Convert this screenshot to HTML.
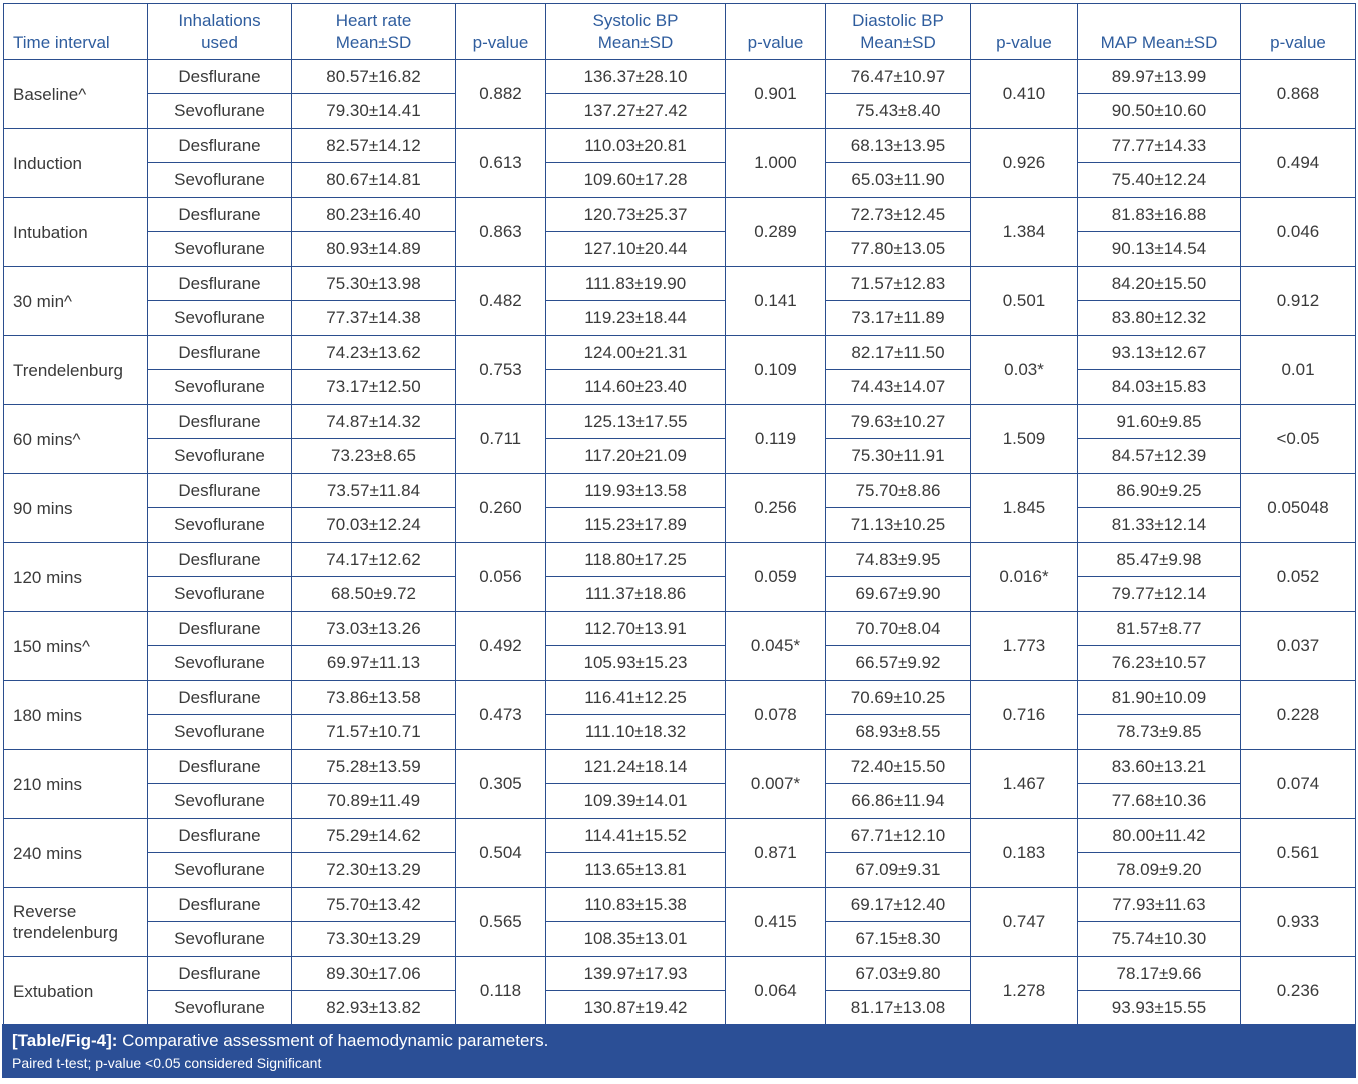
<!DOCTYPE html><html><head><style>
body{margin:0;background:#fff;width:1358px;height:1084px;overflow:hidden;font-family:"Liberation Sans",sans-serif}
table{position:absolute;left:3px;top:3px;border-collapse:collapse;table-layout:fixed}
td,th{border:1px solid #2b4e8e;padding:0;font-size:17px;color:#3a3a3a;text-align:center;font-weight:normal;white-space:nowrap}
th{color:#2f5d9e;vertical-align:bottom;padding-bottom:5px;line-height:22px}
td.l{text-align:left;padding-left:9px;white-space:normal;line-height:21px}
tr.a td{height:33px}tr.b td{height:34px}
#cap{position:absolute;left:2px;top:1024px;width:1354px;height:54px;background:#2b4f96;color:#fff}
</style></head><body>
<table>
<colgroup><col style="width:144px"><col style="width:144px"><col style="width:164px"><col style="width:90px"><col style="width:180px"><col style="width:100px"><col style="width:145px"><col style="width:107px"><col style="width:163px"><col style="width:115px"></colgroup>
<tr style="height:56px"><th style="text-align:left;padding-left:9px">Time interval</th><th>Inhalations<br>used</th><th>Heart rate<br>Mean±SD</th><th>p-value</th><th>Systolic BP<br>Mean±SD</th><th>p-value</th><th>Diastolic BP<br>Mean±SD</th><th>p-value</th><th>MAP Mean±SD</th><th>p-value</th></tr>
<tr class="a"><td class="l" rowspan="2">Baseline^</td><td>Desflurane</td><td>80.57±16.82</td><td rowspan="2">0.882</td><td>136.37±28.10</td><td rowspan="2">0.901</td><td>76.47±10.97</td><td rowspan="2">0.410</td><td>89.97±13.99</td><td rowspan="2">0.868</td></tr>
<tr class="b"><td>Sevoflurane</td><td>79.30±14.41</td><td>137.27±27.42</td><td>75.43±8.40</td><td>90.50±10.60</td></tr>
<tr class="a"><td class="l" rowspan="2">Induction</td><td>Desflurane</td><td>82.57±14.12</td><td rowspan="2">0.613</td><td>110.03±20.81</td><td rowspan="2">1.000</td><td>68.13±13.95</td><td rowspan="2">0.926</td><td>77.77±14.33</td><td rowspan="2">0.494</td></tr>
<tr class="b"><td>Sevoflurane</td><td>80.67±14.81</td><td>109.60±17.28</td><td>65.03±11.90</td><td>75.40±12.24</td></tr>
<tr class="a"><td class="l" rowspan="2">Intubation</td><td>Desflurane</td><td>80.23±16.40</td><td rowspan="2">0.863</td><td>120.73±25.37</td><td rowspan="2">0.289</td><td>72.73±12.45</td><td rowspan="2">1.384</td><td>81.83±16.88</td><td rowspan="2">0.046</td></tr>
<tr class="b"><td>Sevoflurane</td><td>80.93±14.89</td><td>127.10±20.44</td><td>77.80±13.05</td><td>90.13±14.54</td></tr>
<tr class="a"><td class="l" rowspan="2">30 min^</td><td>Desflurane</td><td>75.30±13.98</td><td rowspan="2">0.482</td><td>111.83±19.90</td><td rowspan="2">0.141</td><td>71.57±12.83</td><td rowspan="2">0.501</td><td>84.20±15.50</td><td rowspan="2">0.912</td></tr>
<tr class="b"><td>Sevoflurane</td><td>77.37±14.38</td><td>119.23±18.44</td><td>73.17±11.89</td><td>83.80±12.32</td></tr>
<tr class="a"><td class="l" rowspan="2">Trendelenburg</td><td>Desflurane</td><td>74.23±13.62</td><td rowspan="2">0.753</td><td>124.00±21.31</td><td rowspan="2">0.109</td><td>82.17±11.50</td><td rowspan="2">0.03*</td><td>93.13±12.67</td><td rowspan="2">0.01</td></tr>
<tr class="b"><td>Sevoflurane</td><td>73.17±12.50</td><td>114.60±23.40</td><td>74.43±14.07</td><td>84.03±15.83</td></tr>
<tr class="a"><td class="l" rowspan="2">60 mins^</td><td>Desflurane</td><td>74.87±14.32</td><td rowspan="2">0.711</td><td>125.13±17.55</td><td rowspan="2">0.119</td><td>79.63±10.27</td><td rowspan="2">1.509</td><td>91.60±9.85</td><td rowspan="2">&lt;0.05</td></tr>
<tr class="b"><td>Sevoflurane</td><td>73.23±8.65</td><td>117.20±21.09</td><td>75.30±11.91</td><td>84.57±12.39</td></tr>
<tr class="a"><td class="l" rowspan="2">90 mins</td><td>Desflurane</td><td>73.57±11.84</td><td rowspan="2">0.260</td><td>119.93±13.58</td><td rowspan="2">0.256</td><td>75.70±8.86</td><td rowspan="2">1.845</td><td>86.90±9.25</td><td rowspan="2">0.05048</td></tr>
<tr class="b"><td>Sevoflurane</td><td>70.03±12.24</td><td>115.23±17.89</td><td>71.13±10.25</td><td>81.33±12.14</td></tr>
<tr class="a"><td class="l" rowspan="2">120 mins</td><td>Desflurane</td><td>74.17±12.62</td><td rowspan="2">0.056</td><td>118.80±17.25</td><td rowspan="2">0.059</td><td>74.83±9.95</td><td rowspan="2">0.016*</td><td>85.47±9.98</td><td rowspan="2">0.052</td></tr>
<tr class="b"><td>Sevoflurane</td><td>68.50±9.72</td><td>111.37±18.86</td><td>69.67±9.90</td><td>79.77±12.14</td></tr>
<tr class="a"><td class="l" rowspan="2">150 mins^</td><td>Desflurane</td><td>73.03±13.26</td><td rowspan="2">0.492</td><td>112.70±13.91</td><td rowspan="2">0.045*</td><td>70.70±8.04</td><td rowspan="2">1.773</td><td>81.57±8.77</td><td rowspan="2">0.037</td></tr>
<tr class="b"><td>Sevoflurane</td><td>69.97±11.13</td><td>105.93±15.23</td><td>66.57±9.92</td><td>76.23±10.57</td></tr>
<tr class="a"><td class="l" rowspan="2">180 mins</td><td>Desflurane</td><td>73.86±13.58</td><td rowspan="2">0.473</td><td>116.41±12.25</td><td rowspan="2">0.078</td><td>70.69±10.25</td><td rowspan="2">0.716</td><td>81.90±10.09</td><td rowspan="2">0.228</td></tr>
<tr class="b"><td>Sevoflurane</td><td>71.57±10.71</td><td>111.10±18.32</td><td>68.93±8.55</td><td>78.73±9.85</td></tr>
<tr class="a"><td class="l" rowspan="2">210 mins</td><td>Desflurane</td><td>75.28±13.59</td><td rowspan="2">0.305</td><td>121.24±18.14</td><td rowspan="2">0.007*</td><td>72.40±15.50</td><td rowspan="2">1.467</td><td>83.60±13.21</td><td rowspan="2">0.074</td></tr>
<tr class="b"><td>Sevoflurane</td><td>70.89±11.49</td><td>109.39±14.01</td><td>66.86±11.94</td><td>77.68±10.36</td></tr>
<tr class="a"><td class="l" rowspan="2">240 mins</td><td>Desflurane</td><td>75.29±14.62</td><td rowspan="2">0.504</td><td>114.41±15.52</td><td rowspan="2">0.871</td><td>67.71±12.10</td><td rowspan="2">0.183</td><td>80.00±11.42</td><td rowspan="2">0.561</td></tr>
<tr class="b"><td>Sevoflurane</td><td>72.30±13.29</td><td>113.65±13.81</td><td>67.09±9.31</td><td>78.09±9.20</td></tr>
<tr class="a"><td class="l" rowspan="2">Reverse<br>trendelenburg</td><td>Desflurane</td><td>75.70±13.42</td><td rowspan="2">0.565</td><td>110.83±15.38</td><td rowspan="2">0.415</td><td>69.17±12.40</td><td rowspan="2">0.747</td><td>77.93±11.63</td><td rowspan="2">0.933</td></tr>
<tr class="b"><td>Sevoflurane</td><td>73.30±13.29</td><td>108.35±13.01</td><td>67.15±8.30</td><td>75.74±10.30</td></tr>
<tr class="a"><td class="l" rowspan="2">Extubation</td><td>Desflurane</td><td>89.30±17.06</td><td rowspan="2">0.118</td><td>139.97±17.93</td><td rowspan="2">0.064</td><td>67.03±9.80</td><td rowspan="2">1.278</td><td>78.17±9.66</td><td rowspan="2">0.236</td></tr>
<tr class="b"><td>Sevoflurane</td><td>82.93±13.82</td><td>130.87±19.42</td><td>81.17±13.08</td><td>93.93±15.55</td></tr>
</table>
<div id="cap"><div style="position:absolute;left:10px;top:7px;font-size:17px"><b>[Table/Fig-4]:</b> Comparative assessment of haemodynamic parameters.</div><div style="position:absolute;left:10px;top:31px;font-size:14px">Paired t-test; p-value &lt;0.05 considered Significant</div></div>
</body></html>
